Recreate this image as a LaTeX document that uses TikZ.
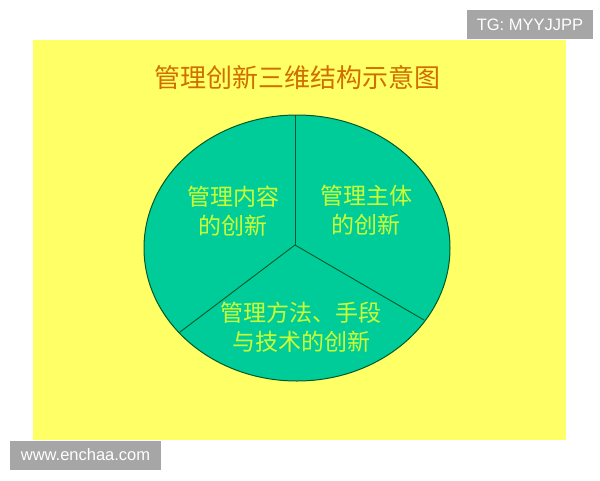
\documentclass[tikz,border=0pt]{standalone}
\usepackage{fontspec}
\setmainfont{Liberation Sans}
\newfontfamily\cjk{Noto Sans CJK SC}
\definecolor{bgyellow}{RGB}{255,255,102}
\definecolor{pieteal}{RGB}{0,204,153}
\definecolor{pieedge}{RGB}{0,90,40}
\definecolor{titleorange}{RGB}{208,110,0}
\definecolor{labellime}{RGB}{204,255,51}
\definecolor{taggray}{RGB}{166,166,166}

\begin{document}
\begin{tikzpicture}[x=1pt,y=-1pt,
        sector/.style={text=labellime,font=\cjk\fontsize{23}{29}\selectfont,align=center,inner sep=0pt},
        tag/.style={fill=taggray,text=white,font=\fontsize{16.5}{18}\selectfont,inner sep=0pt,minimum height=29pt}]
        \useasboundingbox (0,0) rectangle (600,480);
        \def\cx{297}
        \def\cy{248}
        \fill [white] (0,0) rectangle (600,480);
        \fill [bgyellow] (33,40) rectangle (566,440);

        \node (title) [text=titleorange,font=\cjk\fontsize{26}{30}\selectfont] at (297,78) {管理创新三维结构示意图};

        \filldraw [fill=pieteal,draw=pieedge,line width=1pt] (\cx,\cy) ellipse [x radius=153,y radius=133];
        \coordinate (hub) at (295,245);
        \coordinate (top) at (295,115);
        \coordinate (lowleft) at (180,332);
        \coordinate (lowright) at (424,320);
        \draw [pieedge,line width=0.9pt] (hub) -- (top);
        \draw [pieedge,line width=0.9pt] (hub) -- (lowleft);
        \draw [pieedge,line width=0.9pt] (hub) -- (lowright);

        \node (content) [sector] at (233,211) {管理内容\\的创新};
        \node (subject) [sector] at (366,210) {管理主体\\的创新};
        \node (method) [sector] at (301,327) {管理方法、手段\\与技术的创新};

        \node (tg) [tag,minimum width=126pt] at (530,24.5) {TG: MYYJJPP};
        \node (site) [tag,minimum width=151pt] at (85.5,455) {www.enchaa.com};
 \end{tikzpicture}
\end{document}
